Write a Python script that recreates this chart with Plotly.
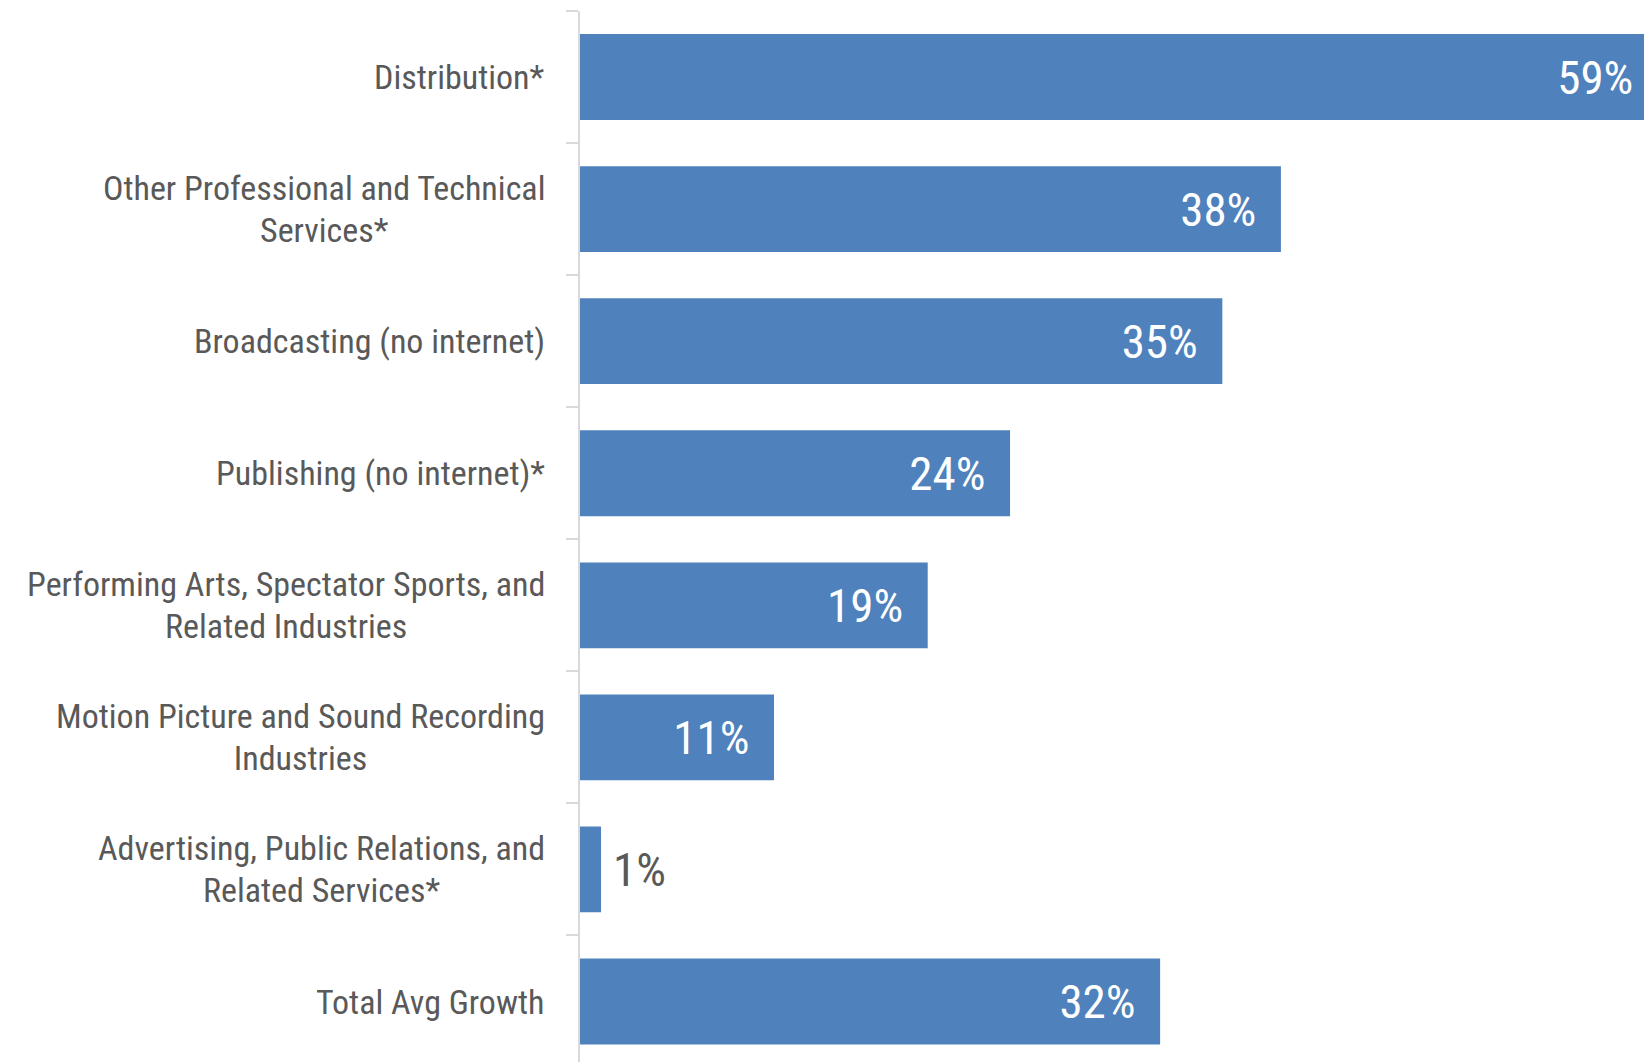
import plotly.graph_objects as go

categories = [
    "Distribution*",
    "Other Professional and Technical Services*",
    "Broadcasting (no internet)",
    "Publishing (no internet)*",
    "Performing Arts, Spectator Sports, and Related Industries",
    "Motion Picture and Sound Recording Industries",
    "Advertising, Public Relations, and Related Services*",
    "Total Avg Growth",
]
tick_lines = [
    ["Distribution*"],
    ["Other Professional and Technical", "Services*"],
    ["Broadcasting (no internet)"],
    ["Publishing (no internet)*"],
    ["Performing Arts, Spectator Sports, and", "Related Industries"],
    ["Motion Picture and Sound Recording", "Industries"],
    ["Advertising, Public Relations, and", "Related Services*"],
    ["Total Avg Growth"],
]
values = [58.9, 38.3, 35.1, 23.5, 19.0, 10.6, 1.15, 31.7]
value_labels = ["59%", "38%", "35%", "24%", "19%", "11%", "1%", "32%"]

NARROW = "Roboto Condensed, Liberation Sans Narrow, Arial Narrow, sans-serif"
GREY = "#595959"

positions = ["inside" if v > 5 else "outside" for v in values]
texts = [(t + "\u00a0\u00a0") if p == "inside" else ("\u2009" + t) for t, p in zip(value_labels, positions)]

fig = go.Figure(
    go.Bar(
        x=values,
        y=categories,
        orientation="h",
        marker=dict(color="#4F81BD", line=dict(width=0)),
        text=texts,
        textposition=positions,
        insidetextanchor="end",
        insidetextfont=dict(family=NARROW, size=47, color="white"),
        outsidetextfont=dict(family=NARROW, size=47, color=GREY),
        cliponaxis=True,
        hoverinfo="skip",
    )
)

for cat, lines in zip(categories, tick_lines):
    txt = "<br>".join('<span style="font-size:34px">%s</span>' % l for l in lines)
    fig.add_annotation(
        xref="paper", x=0, xanchor="right", xshift=-33,
        yref="y", y=cat, yanchor="middle",
        text=txt, align="center", showarrow=False,
        font=dict(family=NARROW, size=32.3, color=GREY),
    )

fig.update_layout(
    width=1644,
    height=1062,
    margin=dict(l=580, r=0, t=11, b=0, pad=0),
    paper_bgcolor="white",
    plot_bgcolor="white",
    bargap=0.35,
    showlegend=False,
    xaxis=dict(visible=False, range=[0, 58.14], fixedrange=True),
    yaxis=dict(
        type="category",
        categoryorder="array",
        categoryarray=categories,
        range=[7.458, -0.5],
        showgrid=False,
        zeroline=False,
        showline=True,
        linecolor="#d9d9d9",
        linewidth=2,
        ticks="outside",
        tickson="boundaries",
        ticklen=12,
        tickwidth=2,
        tickcolor="#d9d9d9",
        showticklabels=False,
        fixedrange=True,
    ),
)

fig.write_html("out.html")
